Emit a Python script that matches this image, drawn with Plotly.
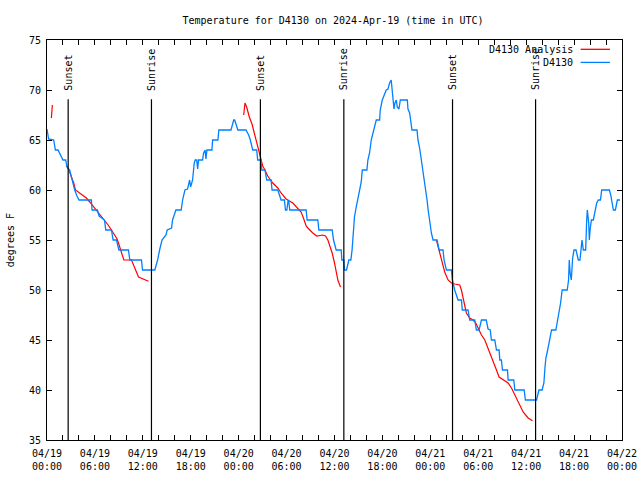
import plotly.graph_objects as go

# ---- data (hours since 2024-04-19 00:00 UTC, degrees F) ----
obs_hours = [0.0, 0.2, 0.84, 1.05, 1.38, 1.6, 2.0, 2.34, 2.5, 2.84, 3.05, 3.26, 3.47, 3.75, 4.01,
             5.56, 5.64, 6.31, 6.52, 7.2, 7.36, 8.07, 8.28, 8.7, 9.0, 10.2, 10.37, 11.83, 11.96,
             13.5, 13.85, 14.1, 14.4, 14.9, 15.05, 15.6, 15.72, 16.14, 16.8, 16.98, 17.27, 17.6,
             17.73, 17.86, 17.98, 18.23, 18.44, 18.56, 18.75, 18.86, 18.98, 19.48, 19.61, 19.8,
             19.9, 20.03, 20.65, 20.74, 21.4, 21.52, 23.04, 23.38, 23.5, 23.9, 24.92, 25.25,
             25.46, 25.76, 26.26, 26.38, 26.8, 26.89, 27.3, 27.51, 28.06, 28.18, 28.9, 29.1,
             29.31, 29.73, 29.86, 30.03, 30.2, 30.3, 30.4, 32.45, 32.57, 33.91, 34.04, 35.71,
             35.88, 36.21, 36.84, 36.92, 37.17, 37.25, 37.5, 37.8, 38.05, 38.2, 38.38, 38.5,
             38.72, 38.93, 39.14, 39.35, 39.48, 40.06, 40.18, 40.39, 40.6, 40.81, 41.02, 41.23,
             41.65, 41.73, 41.98, 42.27, 42.48, 42.7, 42.9, 43.1, 43.2, 43.32, 43.45, 43.57,
             43.74, 43.86, 44.07, 44.24, 45.12, 45.2, 45.41, 45.53, 45.7, 46.33, 46.45, 46.66,
             46.87, 47.0, 47.25, 47.42, 47.59, 47.71, 47.84, 48.0, 48.13, 48.34, 48.84, 49.1,
             49.59, 49.72, 50.01, 50.64, 50.76, 51.05, 51.47, 51.9, 52.0, 52.72, 52.93, 53.56,
             53.77, 54.1, 54.27, 54.4, 55.0, 55.23, 55.5, 55.65, 56.07, 56.28, 56.61, 56.7,
             56.9, 57.03, 57.66, 57.74, 58.45, 58.58, 59.75, 59.9, 61.3, 61.6, 62.0, 62.22,
             62.35, 62.47, 62.64, 62.85, 62.97, 63.18, 63.72, 63.89, 64.14, 64.31, 64.51, 65.14,
             65.31, 65.4, 65.5, 65.65, 65.82, 65.99, 66.24, 66.41, 66.53, 66.74, 66.87, 66.99,
             67.16, 67.45, 67.58, 67.66, 67.83, 67.91, 68.0, 68.17, 68.41, 68.62, 68.83, 69.04,
             69.3, 69.46, 70.42, 70.59, 70.92, 71.17, 71.42, 71.75]
obs_temps = [66.1, 65.1, 65.0, 64.0, 64.0, 63.6, 63.0, 63.0, 62.3, 62.0, 61.3, 60.8, 60.0, 59.4, 59.0,
             59.0, 58.0, 58.0, 57.4, 57.0, 56.0, 56.0, 55.0, 55.0, 54.0, 54.0, 53.0, 53.0, 52.0,
             52.0, 53.0, 54.0, 55.0, 55.5, 56.0, 56.2, 57.0, 58.0, 58.0, 59.0, 60.0, 60.1,
             60.5, 61.0, 60.3, 61.0, 62.7, 63.0, 63.0, 62.1, 63.0, 63.0, 63.7, 64.0,
             63.1, 64.0, 64.0, 65.0, 65.0, 66.0, 66.0, 67.0, 67.0, 66.0, 66.0, 65.5,
             65.0, 64.0, 64.0, 63.0, 63.0, 62.0, 62.0, 61.0, 61.0, 60.0, 60.0, 59.6,
             59.0, 59.0, 58.0, 58.0, 59.0, 58.7, 58.0, 58.0, 57.0, 57.0, 56.0, 56.0,
             55.0, 54.0, 54.0, 53.0, 53.0, 52.0, 52.0, 53.0, 53.0, 54.0, 55.7, 57.3,
             58.3, 59.2, 60.0, 60.8, 62.0, 62.0, 63.0, 63.7, 65.0, 65.7, 66.4, 67.0,
             67.0, 68.0, 69.0, 69.5, 70.0, 70.1, 70.7, 71.0, 70.2, 69.0, 68.1, 68.7,
             69.0, 68.3, 68.1, 69.0, 69.0, 68.1, 67.7, 67.0, 66.0, 66.0, 65.0, 64.2,
             63.1, 62.1, 61.0, 60.1, 59.0, 58.1, 57.3, 56.3, 55.7, 55.0, 55.0, 54.0,
             54.0, 53.0, 52.0, 52.0, 51.0, 50.0, 49.0, 49.0, 48.0, 48.0, 47.0, 47.0,
             46.0, 46.0, 46.7, 47.0, 47.0, 46.1, 46.0, 45.0, 45.0, 44.0, 44.0, 43.0,
             43.0, 42.0, 42.0, 41.0, 41.0, 40.0, 40.0, 39.0, 39.0, 40.0, 40.0, 40.7,
             42.2, 43.2, 43.8, 44.7, 45.2, 46.0, 46.0, 46.8, 47.7, 48.7, 50.0, 50.0,
             51.0, 53.0, 51.7, 51.0, 53.2, 54.0, 54.0, 53.3, 53.0, 53.0, 54.5, 55.0,
             54.0, 54.0, 57.0, 58.0, 56.7, 55.0, 56.0, 57.0, 57.0, 58.0, 58.7, 59.0,
             59.0, 60.0, 60.0, 59.5, 58.0, 58.0, 59.0, 59.0]

ana1_hours = [0.55, 0.6, 0.67]
ana1_temps = [67.2, 67.9, 68.5]
ana2_hours = [2.4, 2.76, 3.05, 3.35, 3.56, 3.89, 4.31, 4.93, 5.35, 5.77, 6.4, 7.02, 7.65, 8.07,
              8.49, 8.78, 9.03, 9.32, 9.62, 10.58, 10.87, 11.2, 11.46, 11.96, 12.71]
ana2_temps = [62.5, 62.0, 61.3, 60.7, 60.0, 59.8, 59.5, 59.2, 58.8, 58.4, 57.8, 57.2, 56.5, 56.0,
              55.5, 55.1, 54.5, 53.7, 53.0, 53.0, 52.5, 51.8, 51.3, 51.1, 50.87]
ana3_hours = [24.63, 24.79, 25.0, 25.33, 25.67, 25.96, 26.17, 26.51, 26.8, 27.01, 27.22, 27.64,
              28.27, 28.9, 29.31, 29.94, 30.78, 31.4, 31.82, 32.11, 32.45, 32.78, 33.28, 33.79,
              34.54, 34.87, 35.17, 35.46, 35.71, 36.0, 36.21, 36.42, 36.75]
ana3_temps = [67.5, 68.7, 68.3, 67.3, 66.6, 65.7, 64.8, 63.8, 63.1, 62.4, 62.1, 61.4,
              60.7, 60.2, 59.7, 59.1, 58.7, 58.2, 57.8, 57.2, 56.4, 56.1, 55.7, 55.4,
              55.5, 55.4, 55.0, 54.3, 53.7, 52.7, 51.7, 51.0, 50.3]
ana4_hours = [48.76, 49.17, 49.51, 49.8, 50.22, 50.64, 51.05, 51.68, 51.89, 52.18, 52.51, 52.93,
              53.35, 53.69, 53.98, 54.4, 54.82, 55.23, 55.65, 55.95, 56.28, 56.61, 57.12, 57.74,
              58.16, 58.58, 59.0, 59.41, 59.62, 60.25, 60.79]
ana4_temps = [55.0, 53.8, 52.8, 51.8, 51.0, 50.7, 50.6, 50.5, 50.0, 48.8, 47.7, 47.2,
              47.0, 46.7, 46.2, 45.5, 45.0, 44.2, 43.3, 42.7, 42.0, 41.3, 41.0, 40.7,
              40.2, 39.5, 38.8, 38.2, 37.8, 37.2, 36.93]

sun_events = ["Sunset", "Sunrise", "Sunset", "Sunrise", "Sunset", "Sunrise"]
sun_hours = [2.65, 13.08, 26.72, 37.17, 50.78, 61.18]

tick_hours = [0, 6, 12, 18, 24, 30, 36, 42, 48, 54, 60, 66, 72]
tick_labels = ["04/19<br>00:00", "04/19<br>06:00", "04/19<br>12:00", "04/19<br>18:00",
               "04/20<br>00:00", "04/20<br>06:00", "04/20<br>12:00", "04/20<br>18:00",
               "04/21<br>00:00", "04/21<br>06:00", "04/21<br>12:00", "04/21<br>18:00",
               "04/22<br>00:00"]
y_ticks = [35, 40, 45, 50, 55, 60, 65, 70, 75]

# ---- build ----
segs = [(ana1_hours, ana1_temps), (ana2_hours, ana2_temps),
        (ana3_hours, ana3_temps), (ana4_hours, ana4_temps)]
ana_x, ana_y = [], []
for hx, ty in segs:
    ana_x += hx + [None]
    ana_y += ty + [None]

FONT = "DejaVu Sans Mono"
RED = "#ff0000"
BLUE = "#0080ff"

fig = go.Figure()
fig.add_trace(go.Scatter(x=ana_x, y=ana_y, mode="lines", name="D4130 Analysis",
                         line=dict(color=RED, width=1.2), connectgaps=False))
fig.add_trace(go.Scatter(x=obs_hours, y=obs_temps, mode="lines", name="D4130",
                         line=dict(color=BLUE, width=1.3)))

for ev, hx in zip(sun_events, sun_hours):
    fig.add_shape(type="line", xref="x", yref="y", x0=hx, x1=hx, y0=35, y1=69.07,
                  line=dict(color="black", width=1.2))
    fig.add_annotation(x=hx, y=69.75, xref="x", yref="y", text=ev, textangle=-90,
                       showarrow=False, xanchor="center", yanchor="bottom",
                       font=dict(family=FONT, size=10, color="black"))

# gnuplot-style legend (text, then line sample)
legend_items = [("D4130 Analysis", RED, 0.9767), ("D4130", BLUE, 0.944)]
for txt, col, yp in legend_items:
    fig.add_annotation(x=0.9183, y=yp, xref="paper", yref="paper", text=txt,
                       showarrow=False, xanchor="right", yanchor="middle",
                       font=dict(family=FONT, size=10, color="black"))
    fig.add_shape(type="line", xref="paper", yref="paper", x0=0.928, x1=0.979,
                  y0=yp, y1=yp, line=dict(color=col, width=1.3))

fig.add_annotation(x=-0.064, y=0.5, xref="paper", yref="paper", text="degrees F",
                   textangle=-90, showarrow=False, xanchor="center", yanchor="middle",
                   font=dict(family=FONT, size=10, color="black"))

fig.update_layout(
    width=640, height=480,
    margin=dict(l=47, r=18, t=40, b=40, pad=0, autoexpand=False),
    paper_bgcolor="white", plot_bgcolor="white",
    showlegend=False,
    font=dict(family=FONT, size=10, color="black"),
    title=dict(text="Temperature for D4130 on 2024-Apr-19 (time in UTC)",
               x=333 / 640, xanchor="center", y=1 - 20 / 480, yanchor="middle",
               font=dict(family=FONT, size=10, color="black")),
)
fig.update_xaxes(range=[0, 72], tickvals=tick_hours, ticktext=tick_labels,
                 automargin=False, ticklabelstandoff=4,
                 showgrid=False, zeroline=False, showline=True, linecolor="black",
                 linewidth=1, mirror="ticks", ticks="inside", ticklen=5,
                 tickcolor="black", tickwidth=1,
                 minor=dict(dtick=2, tick0=0, ticks="inside", ticklen=5,
                            tickcolor="black", showgrid=False),
                 tickfont=dict(family=FONT, size=10, color="black"))
fig.update_yaxes(range=[35, 75], tickvals=y_ticks, automargin=False,
                 ticklabelstandoff=3,
                 showgrid=False, zeroline=False,
                 showline=True, linecolor="black", linewidth=1, mirror="ticks",
                 ticks="inside", ticklen=5, tickcolor="black", tickwidth=1,
                 tickfont=dict(family=FONT, size=10, color="black"))

fig.write_html("out.html", config={"displayModeBar": False},
               post_script="document.body.style.margin='0';document.body.style.overflow='hidden';")
